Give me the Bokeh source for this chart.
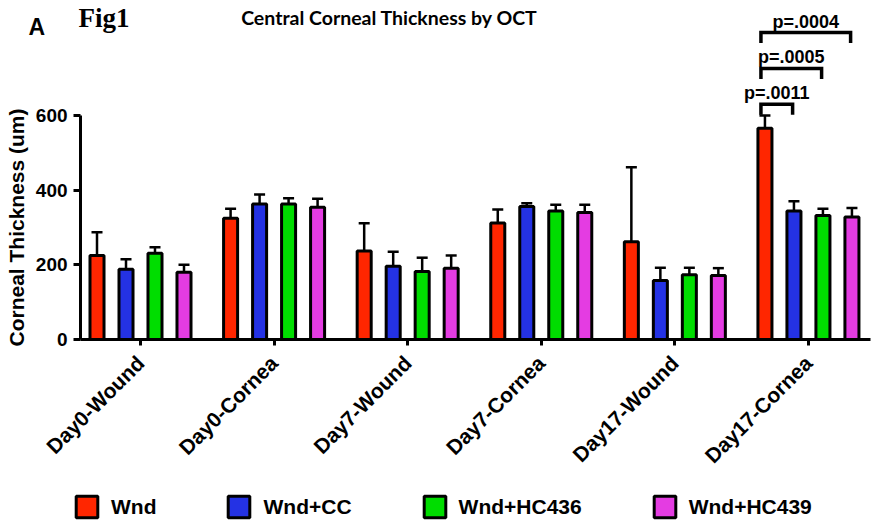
import numpy as np
from bokeh.plotting import figure
from bokeh.models import (ColumnDataSource, Range1d, FixedTicker, Whisker, TeeHead,
                          Legend, LegendItem, Label)
from bokeh.core.properties import value
from bokeh.embed import file_html
from bokeh.resources import INLINE

# ---------------- data ----------------
categories = ["Day0-Wound", "Day0-Cornea", "Day7-Wound", "Day7-Cornea",
              "Day17-Wound", "Day17-Cornea"]
groups = ["Wnd", "Wnd+CC", "Wnd+HC436", "Wnd+HC439"]

wnd_mean = [225, 325, 237, 312, 262, 566]
wnd_err = [62, 25, 74, 36, 199, 34]
cc_mean = [188, 363, 196, 356, 158, 344]
cc_err = [27, 25, 39, 9, 34, 26]
hc436_mean = [231, 363, 182, 344, 173, 332]
hc436_err = [16, 15, 37, 17, 19, 18]
hc439_mean = [180, 354, 191, 340, 171, 328]
hc439_err = [20, 23, 34, 21, 20, 24]

y_ticks = [0, 200, 400, 600]

# significance brackets (Day17-Cornea: Wnd vs. others)
bracket_target = [1, 2, 3]          # index into groups
bracket_height = [630, 726, 822]    # data units (um)
bracket_pvalue = ["p=.0011", "p=.0005", "p=.0004"]

means = [wnd_mean, cc_mean, hc436_mean, hc439_mean]
errs = [wnd_err, cc_err, hc436_err, hc439_err]
colors = ["#ff2600", "#2432e4", "#00dd00", "#e43ce2"]
offsets = [-0.3256, -0.1085, 0.1085, 0.3256]

FONT = "Liberation Sans"

X_START, X_END = -0.548, 5.987     # whole canvas width
Y_START, Y_END = -485.0, 908.0     # whole canvas height
X_AXIS_LEFT, X_AXIS_RIGHT = 0.051, 5.964

p = figure(width=873, height=520,
           x_range=Range1d(X_START, X_END), y_range=Range1d(Y_START, Y_END),
           output_backend="svg", toolbar_location=None,
           min_border=0, min_border_left=0, min_border_right=0,
           min_border_top=0, min_border_bottom=0)
p.outline_line_color = None
p.grid.visible = False
p.background_fill_color = "white"

xc = np.arange(len(categories)) + 0.5
renderers = []
for g, m, e, c, off in zip(groups, means, errs, colors, offsets):
    m = np.array(m, dtype=float)
    e = np.array(e, dtype=float)
    src = ColumnDataSource(dict(x=xc + off, top=m, upper=m + e))
    w = Whisker(source=src, base="x", lower="top", upper="upper",
                dimension="height", line_color="black", line_width=2.5,
                upper_head=TeeHead(size=11, line_color="black", line_width=2.5),
                lower_head=None, level="glyph")
    p.add_layout(w)
    r = p.vbar(x="x", top="top", bottom=0, width=0.105, source=src,
               fill_color=c, line_color="black", line_width=3)
    renderers.append(r)

# brackets
last = len(categories) - 1
x0 = xc[last] + offsets[0] - 0.03
bx, by, tx, ty = [], [], [], []
for t, h in zip(bracket_target, bracket_height):
    x1 = xc[last] + offsets[t] - 0.01
    bx.append([x0, x0, x1, x1])
    by.append([h - 28, h, h, h - 28])
    tx.append((x0 + x1) / 2)
    ty.append(h)
p.multi_line(xs=bx, ys=by, line_color="black", line_width=3.5, line_join="miter")
p.text(x=tx, y=ty, text=bracket_pvalue, text_align="center",
       text_baseline="alphabetic", y_offset=-11,
       text_font=value(FONT), text_font_style="bold", text_font_size="18px",
       text_color="black")

# axes (pinned inside the canvas-wide frame)
xa = p.xaxis[0]
xa.fixed_location = 0
xa.bounds = (X_AXIS_LEFT, X_AXIS_RIGHT)
xa.ticker = FixedTicker(ticks=list(xc))
xa.major_label_overrides = {float(v): c for v, c in zip(xc, categories)}
xa.major_label_orientation = np.pi / 4
xa.major_label_text_font = FONT
xa.major_label_text_font_style = "bold"
xa.major_label_text_font_size = "21px"
xa.major_label_text_color = "black"
xa.major_label_standoff = 14
xa.axis_line_width = 3
xa.axis_line_color = "black"
xa.major_tick_line_width = 3
xa.major_tick_out = 6
xa.major_tick_in = 0
xa.minor_tick_line_color = None

ya = p.yaxis[0]
ya.fixed_location = X_AXIS_LEFT
ya.ticker = FixedTicker(ticks=y_ticks)
ya.bounds = (0, 600)
ya.axis_label = "Corneal Thickness (um)"
ya.axis_label_text_font = FONT
ya.axis_label_text_font_style = "bold"
ya.axis_label_text_font_size = "21px"
ya.axis_label_text_color = "black"
ya.axis_label_standoff = 5
ya.major_label_text_font = FONT
ya.major_label_text_font_style = "bold"
ya.major_label_text_font_size = "19px"
ya.major_label_text_color = "black"
ya.major_label_standoff = 6
ya.axis_line_width = 3
ya.axis_line_color = "black"
ya.major_tick_line_width = 3
ya.major_tick_out = 7
ya.major_tick_in = 0
ya.minor_tick_line_color = None

# legend
legend = Legend(items=[LegendItem(label=g, renderers=[r]) for g, r in zip(groups, renderers)],
                orientation="horizontal", location=(73, 0),
                glyph_width=27, glyph_height=27, label_standoff=11, spacing=69,
                label_text_font=FONT, label_text_font_style="bold",
                label_text_font_size="21px", label_text_color="black",
                padding=0, margin=0, background_fill_alpha=0, border_line_alpha=0)
p.add_layout(legend, "center")

# titles
p.add_layout(Label(x=389, y=503, x_units="screen", y_units="screen",
                   text="Central Corneal Thickness by OCT", text_align="center",
                   text_baseline="middle", text_font="Lato",
                   text_font_style="bold", text_font_size="19.5px", text_color="black"))
p.add_layout(Label(x=78, y=503, x_units="screen", y_units="screen",
                   text="Fig1", text_align="left", text_baseline="middle",
                   text_font="Liberation Serif", text_font_style="bold",
                   text_font_size="27px", text_color="black"))
p.add_layout(Label(x=28, y=494, x_units="screen", y_units="screen",
                   text="A", text_align="left", text_baseline="middle",
                   text_font=FONT, text_font_style="bold",
                   text_font_size="23px", text_color="black"))

open("out.html", "w").write(file_html(p, INLINE))
